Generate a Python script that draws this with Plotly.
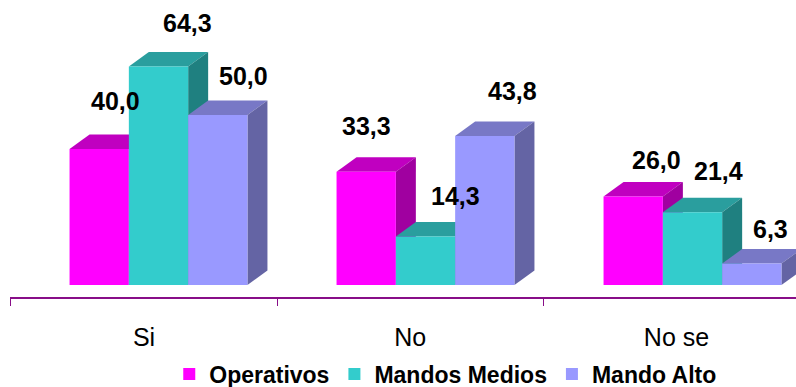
import plotly.graph_objects as go

# --- data -------------------------------------------------------------
CATEGORIAS = ["Si", "No", "No se"]
SERIES = ["Operativos", "Mandos Medios", "Mando Alto"]
OPERATIVOS = [40.0, 33.3, 26.0]
MANDOS_MEDIOS = [64.3, 14.3, 21.4]
MANDO_ALTO = [50.0, 43.8, 6.3]
VALORES = [OPERATIVOS, MANDOS_MEDIOS, MANDO_ALTO]

# --- styling ------------------------------------------------------------
FRONT = ["#FF00FF", "#33CCCC", "#9999FF"]
TOP = ["#C000C0", "#2A9E9E", "#7878C6"]
SIDE = ["#A000A0", "#1F8080", "#6464A4"]
AXIS_PURPLE = "#880E88"
FONT = "Liberation Sans, Arial, sans-serif"

# per-label nudges (pixels) for the value labels, one row per series
LABEL_DX = [[16, 0, 23], [29, 30, 26], [26, 28, 19]]
LABEL_DY = [[48, 46, 37], [43, 40, 41], [39, 45, 35]]

# --- geometry -----------------------------------------------------------
W, H = 796, 387
PX_PER_GROUP = 267.0
FIRST_GROUP_PX = 158.5
PX_PER_UNIT = 3.4
BASE_PX = 285.0
PLOT_BOTTOM_PX = 297.0
BAR_W = 59.3 / PX_PER_GROUP
DEPTH_X = 20.0 / PX_PER_GROUP
DEPTH_Y = 14.5 / PX_PER_UNIT

x_range = [-FIRST_GROUP_PX / PX_PER_GROUP, (W - FIRST_GROUP_PX) / PX_PER_GROUP]
y_range = [-(PLOT_BOTTOM_PX - BASE_PX) / PX_PER_UNIT, BASE_PX / PX_PER_UNIT]

# category axis (labels + boundary ticks), shifted to the chart floor's front edge
LABEL_AXIS_START_PX = 10.0
FIRST_LABEL_PX = 144.0
LABEL_STEP_PX = 266.25
x2_range = [(LABEL_AXIS_START_PX - FIRST_LABEL_PX) / LABEL_STEP_PX,
            (W - FIRST_LABEL_PX) / LABEL_STEP_PX]

fig = go.Figure()
shapes = []
annotations = []

for i, (name, vals) in enumerate(zip(SERIES, VALORES)):
    centers = [g + (i - 1) * BAR_W for g in range(len(CATEGORIAS))]
    fig.add_trace(go.Bar(
        x=centers, y=vals, width=BAR_W, name=name,
        marker=dict(color=FRONT[i], line=dict(width=0)),
        hoverinfo="skip",
    ))
    for g, (c, v) in enumerate(zip(centers, vals)):
        x0, x1 = c - BAR_W / 2, c + BAR_W / 2
        # top face
        shapes.append(dict(
            type="path", xref="x", yref="y", layer="below",
            path=f"M {x0},{v} L {x1},{v} L {x1 + DEPTH_X},{v + DEPTH_Y} "
                 f"L {x0 + DEPTH_X},{v + DEPTH_Y} Z",
            fillcolor=TOP[i], line=dict(width=0),
        ))
        # right side face
        shapes.append(dict(
            type="path", xref="x", yref="y", layer="below",
            path=f"M {x1},0 L {x1},{v} L {x1 + DEPTH_X},{v + DEPTH_Y} "
                 f"L {x1 + DEPTH_X},{DEPTH_Y} Z",
            fillcolor=SIDE[i], line=dict(width=0),
        ))
        annotations.append(dict(
            x=c, y=v, xref="x", yref="y", showarrow=False,
            text=f"{v:.1f}".replace(".", ","),
            xshift=LABEL_DX[i][g], yshift=LABEL_DY[i][g],
            font=dict(family=FONT, size=25, color="#000000", weight="bold"),
        ))

# carrier trace for the category axis
fig.add_trace(go.Scatter(
    x=CATEGORIAS, y=[0, 0, 0], xaxis="x2", yaxis="y",
    mode="none", showlegend=False, hoverinfo="skip",
))

fig.update_layout(
    width=W, height=H,
    margin=dict(l=0, r=0, t=0, b=H - PLOT_BOTTOM_PX, pad=0, autoexpand=False),
    paper_bgcolor="white", plot_bgcolor="rgba(0,0,0,0)",
    barmode="overlay",
    showlegend=True,
    xaxis=dict(range=x_range, visible=False, fixedrange=True),
    xaxis2=dict(
        type="category", domain=[LABEL_AXIS_START_PX / W, 1], anchor="y",
        range=x2_range, showgrid=False, zeroline=False,
        showline=True, linecolor=AXIS_PURPLE, linewidth=2,
        ticks="outside", ticklen=7, tickwidth=1, tickcolor=AXIS_PURPLE,
        tickson="boundaries", automargin=False,
        tickfont=dict(family=FONT, size=25, color="#000000"),
        ticklabelstandoff=17,
    ),
    yaxis=dict(range=y_range, visible=False, fixedrange=True),
    legend=dict(
        orientation="h", x=0.56, xanchor="center",
        yref="container", y=(H - 374) / H, yanchor="middle",
        font=dict(family=FONT, size=23, color="#000000", weight="bold"),
        itemwidth=30, tracegroupgap=0, bgcolor="rgba(0,0,0,0)",
    ),
    shapes=shapes,
    annotations=annotations,
)

fig.write_html("out.html")
